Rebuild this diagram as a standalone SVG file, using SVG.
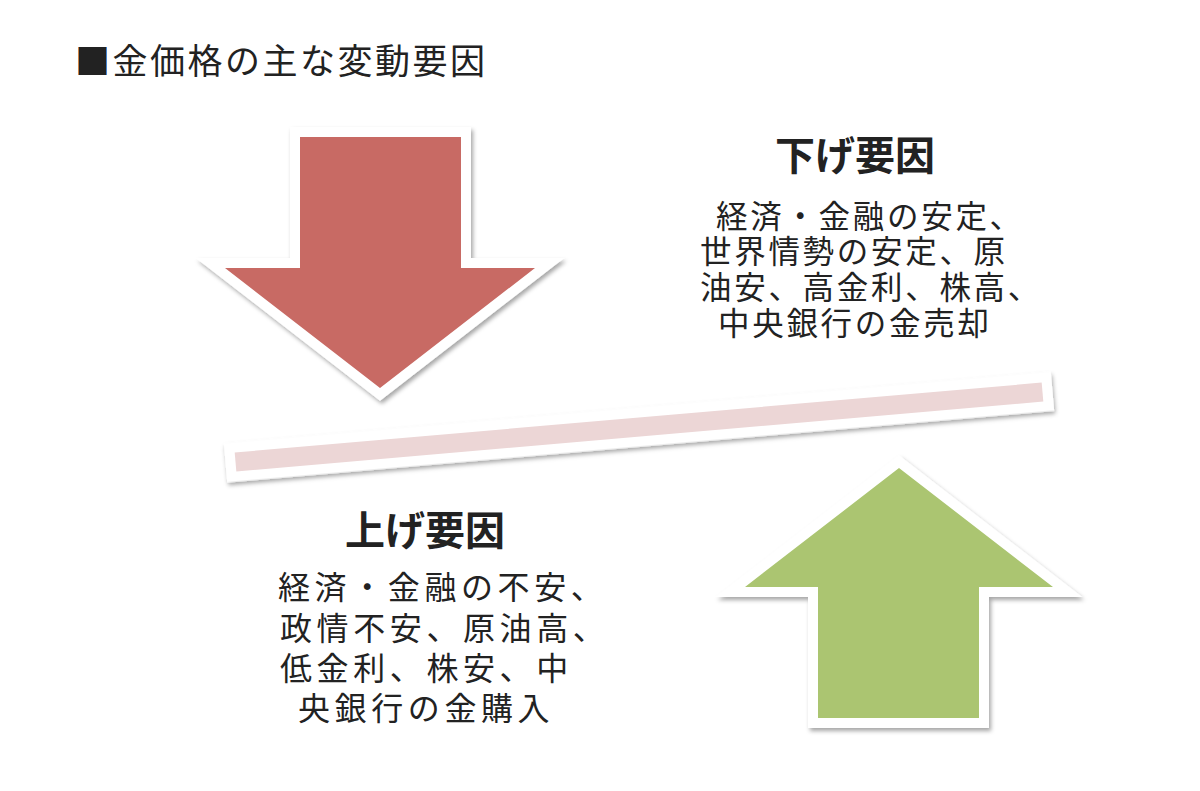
<svg xmlns="http://www.w3.org/2000/svg" width="1200" height="791" viewBox="0 0 1200 791">
  <defs>
    <filter id="shadow" x="-15%" y="-15%" width="130%" height="130%">
      <feDropShadow dx="2" dy="3" stdDeviation="2.2" flood-color="#000" flood-opacity="0.35"/>
    </filter>
    <filter id="bar-shadow" x="-5%" y="-150%" width="110%" height="400%">
      <feDropShadow dx="1" dy="3" stdDeviation="2.2" flood-color="#000" flood-opacity="0.35"/>
    </filter>
    <style>
      .jp { font-family: "Noto Sans CJK JP", "Noto Sans CJK SC", sans-serif; fill: #222; }
      .title { font-size: 35px; letter-spacing: 2.5px; }
      .head { font-size: 40px; font-weight: bold; text-anchor: middle; }
      .up-body { font-size: 32px; letter-spacing: 4.6px; }
      .down-body { font-size: 31.5px; letter-spacing: 2.7px; }
      .border { fill: #fff; stroke: #fff; stroke-width: 20; stroke-linejoin: miter; stroke-miterlimit: 10; filter: url(#shadow); }
    </style>
  </defs>
  <rect width="1200" height="791" fill="#fff"/>

  <g id="title">
    <text class="jp title" x="75" y="74">■金価格の主な変動要因</text>
  </g>

  <g id="arrow-down">
    <polygon class="border" points="300,137 461,137 461,268 535,268 380,388 225,268 300,268"/>
    <polygon fill="#c86a64" points="300,137 461,137 461,268 535,268 380,388 225,268 300,268"/>
  </g>

  <g id="balance-bar">
    <g transform="translate(639,427) rotate(-4.95)">
      <rect class="border" x="-405" y="-9.5" width="810" height="19" stroke-width="18" style="filter:url(#bar-shadow)"/>
      <rect x="-405" y="-9.5" width="810" height="19" fill="#ecd6d6"/>
    </g>
  </g>

  <g id="arrow-up">
    <polygon class="border" points="899,468 1053,587 979,587 979,718 818,718 818,587 745,587"/>
    <polygon fill="#abc571" points="899,468 1053,587 979,587 979,718 818,718 818,587 745,587"/>
  </g>

  <g id="label-down">
    <text class="jp head" x="855" y="170">下げ要因</text>
    <text class="jp down-body">
      <tspan x="716" y="228">経済・金融の安定、</tspan>
      <tspan x="700" y="263">世界情勢の安定、原</tspan>
      <tspan x="700" y="299">油安、高金利、株高、</tspan>
      <tspan x="718" y="335">中央銀行の金売却</tspan>
    </text>
  </g>

  <g id="label-up">
    <text class="jp head" x="425" y="545">上げ要因</text>
    <text class="jp up-body">
      <tspan x="278" y="599">経済・金融の不安、</tspan>
      <tspan x="280" y="640">政情不安、原油高、</tspan>
      <tspan x="280" y="680">低金利、株安、中</tspan>
      <tspan x="298" y="720">央銀行の金購入</tspan>
    </text>
  </g>
</svg>
